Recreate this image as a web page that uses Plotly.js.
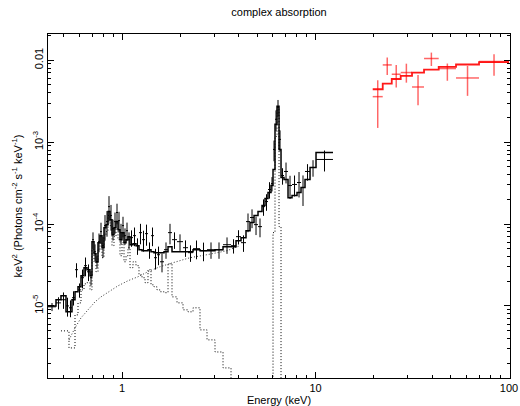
<!DOCTYPE html>
<html>
<head>
<meta charset="utf-8">
<script src="https://cdn.plot.ly/plotly-3.0.1.min.js"></script>
<style>html,body{margin:0;padding:0;background:#fff;}#plot{width:520px;height:406px;}</style>
</head>
<body>
<div id="plot"></div>
<script>
// ---- black spectrum (0.4-12 keV): bin edges (keV), flux, 1-sigma error, total model ----
const blackEdges = [0.4146, 0.456, 0.4838, 0.5136, 0.5322, 0.5515, 0.5717, 0.5924, 0.614, 0.6363,
  0.6594, 0.6834, 0.6998, 0.7167, 0.7339, 0.7516, 0.7697, 0.7882, 0.8072, 0.8267,
  0.8466, 0.867, 0.8879, 0.9092, 0.9311, 0.9535, 0.9765, 1.0, 1.0241, 1.0488,
  1.074, 1.0999, 1.1397, 1.1814, 1.224, 1.2686, 1.3149, 1.3626, 1.4122, 1.4634,
  1.5167, 1.5718, 1.6484, 1.729, 1.8131, 1.924, 2.0665, 2.1931, 2.3281, 2.5298,
  2.7499, 3.0243, 3.3266, 3.6594, 3.883, 4.121, 4.373, 4.5868, 4.8111, 5.0445,
  5.2906, 5.4828, 5.6817, 5.8884, 6.031, 6.176, 6.3241, 6.4775, 6.6334, 6.874,
  7.2095, 7.5611, 8.0238, 8.4155, 8.825, 9.3675, 10.06, 12.31];
const blackFlux = [9.75e-6, 1.09e-5, 1.19e-5, 1.00e-5, 9.48e-6, 1.26e-5, 2.77e-5, 1.57e-5, 2.21e-5, 3.10e-5,
  2.61e-5, 2.21e-5, 6.44e-5, 4.59e-5, 3.46e-5, 6.09e-5, 8.07e-5, 5.44e-5, 9.56e-5, 1.07e-4,
  1.63e-4, 1.27e-4, 8.78e-5, 1.07e-4, 1.38e-4, 1.10e-4, 7.85e-5, 9.56e-5, 7.21e-5, 8.30e-5,
  6.44e-5, 6.82e-5, 7.21e-5, 5.44e-5, 7.85e-5, 6.44e-5, 7.63e-5, 4.86e-5, 7.21e-5, 3.88e-5,
  4.22e-5, 3.46e-5, 4.86e-5, 7.85e-5, 6.44e-5, 6.09e-5, 5.14e-5, 4.47e-5, 5.00e-5, 4.72e-5,
  4.86e-5, 4.86e-5, 5.59e-5, 5.44e-5, 7.01e-5, 5.92e-5, 1.07e-4, 1.20e-4, 9.83e-5, 9.29e-5,
  1.63e-4, 1.88e-4, 2.64e-4, 3.12e-4, 8.14e-4, 1.90e-3, 2.66e-3, 1.08e-3, 3.91e-4, 4.38e-4,
  2.95e-4, 3.04e-4, 3.21e-4, 2.79e-4, 4.38e-4, 4.90e-4, 6.14e-4];
const blackErr = [1.1e-6, 1.85e-6, 2.7e-6, 2.6e-6, 2.2e-6, 2.5e-6, 5.5e-6, 3.1e-6, 5.7e-6, 8.0e-6,
  6.0e-6, 4.4e-6, 1.47e-5, 1.05e-5, 5.9e-6, 1.57e-5, 2.3e-5, 1.56e-5, 3.3e-5, 3.7e-5,
  5.6e-5, 4.4e-5, 2.5e-5, 3.1e-5, 3.9e-5, 3.1e-5, 2.2e-5, 2.7e-5, 1.64e-5, 2.1e-5,
  1.47e-5, 1.55e-5, 1.85e-5, 1.24e-5, 2.2e-5, 1.84e-5, 2.2e-5, 1.1e-5, 1.85e-5, 1.1e-5,
  1.08e-5, 8.9e-6, 1.1e-5, 2.2e-5, 1.47e-5, 1.39e-5, 1.17e-5, 1.02e-5, 1.29e-5, 1.21e-5,
  1.1e-5, 1.1e-5, 1.27e-5, 1.08e-5, 1.39e-5, 1.35e-5, 2.75e-5, 3.1e-5, 2.5e-5, 2.4e-5,
  3.7e-5, 4.3e-5, 6.0e-5, 6.2e-5, 2.3e-4, 5.4e-4, 6.1e-4, 3.1e-4, 8.9e-5, 1.25e-4,
  9.3e-5, 8.7e-5, 1.1e-4, 1.13e-4, 1.0e-4, 1.12e-4, 1.76e-4];
const blackModel = [1.00e-5, 1.19e-5, 1.33e-5, 8.5e-6, 8.5e-6, 1.19e-5, 1.49e-5, 1.71e-5, 2.34e-5, 2.93e-5,
  2.77e-5, 2.34e-5, 6.09e-5, 4.34e-5, 3.46e-5, 5.92e-5, 7.21e-5, 5.14e-5, 9.03e-5, 9.83e-5,
  1.42e-4, 1.13e-4, 7.42e-5, 9.03e-5, 1.07e-4, 8.54e-5, 6.44e-5, 7.85e-5, 5.92e-5, 6.44e-5,
  7.01e-5, 5.59e-5, 5.75e-5, 5.44e-5, 4.86e-5, 4.72e-5, 4.72e-5, 4.86e-5, 4.59e-5, 4.47e-5,
  4.47e-5, 4.47e-5, 4.59e-5, 5.29e-5, 4.59e-5, 4.59e-5, 4.59e-5, 4.59e-5, 4.86e-5, 4.72e-5,
  4.72e-5, 4.86e-5, 5.29e-5, 5.29e-5, 6.26e-5, 6.82e-5, 8.30e-5, 1.04e-4, 1.27e-4, 1.42e-4,
  1.68e-4, 2.05e-4, 2.42e-4, 2.95e-4, 4.63e-4, 1.65e-3, 2.74e-3, 8.14e-4, 3.70e-4, 3.50e-4,
  2.10e-4, 2.23e-4, 2.42e-4, 2.79e-4, 3.50e-4, 4.90e-4, 7.48e-4];
// thermal (line-rich) component, on the same bins (first bins empty)
const thermalModel = [null, null, 4.96e-6, 4.96e-6, 3.07e-6, 3.07e-6, 7.78e-6, 1.09e-5, 1.57e-5, 1.86e-5,
  1.92e-5, 1.57e-5, 4.86e-5, 3.46e-5, 2.61e-5, 4.86e-5, 5.92e-5, 3.88e-5, 7.42e-5, 8.07e-5,
  1.27e-4, 9.56e-5, 5.44e-5, 7.01e-5, 8.78e-5, 6.44e-5, 4.10e-5, 5.92e-5, 3.46e-5, 4.10e-5,
  5.14e-5, 2.93e-5, 3.46e-5, 3.10e-5, 2.40e-5, 2.21e-5, 1.92e-5, 2.77e-5, 1.81e-5, 1.71e-5,
  1.57e-5, 1.49e-5, 1.45e-5, 3.27e-5, 1.29e-5, 1.09e-5, 8.96e-6, 8.47e-6, 9.48e-6, 5.10e-6,
  3.85e-6, 2.74e-6, 1.75e-6, 1e-7];
// absorbed power-law continuum
const plEnergy = [0.5322, 0.5717, 0.614, 0.6673, 0.725, 0.7789, 0.867, 0.9535, 1.074, 1.2097, 1.395, 1.572, 1.835, 2.246, 2.75, 3.488, 4.072];
const plFlux = [3.85e-6, 5.39e-6, 7.15e-6, 8.96e-6, 1.12e-5, 1.29e-5, 1.53e-5, 1.76e-5, 2.03e-5, 2.27e-5, 2.69e-5, 3.01e-5, 3.37e-5, 3.88e-5, 4.22e-5, 4.72e-5, 5.44e-5];
// Fe K gaussian line
const gaussEdges = [5.8884, 6.031, 6.176, 6.3241, 6.4775, 6.6334, 6.874];
const gaussModel = [1e-8, 7.85e-5, 1.175e-3, 2.51e-3, 9.29e-5, 1e-8];

// ---- red spectrum (20-100 keV) ----
const redEdges = [19.75, 22.25, 24.77, 27.56, 31.53, 36.37, 43.31, 53.22, 69.98, 100];
const redFlux = [3.59e-3, 8.76e-3, 6.74e-3, 7.07e-3, 4.71e-3, 1.049e-2, 7.91e-3, 6.07e-3, 9.64e-3];
const redErrUp = [2.1e-3, 2.0e-3, 2.0e-3, 2.0e-3, 1.9e-3, 1.9e-3, 1.2e-3, 2.45e-3, 2.2e-3];
const redErrDn = [2.1e-3, 2.15e-3, 2.1e-3, 1.75e-3, 1.9e-3, 2.0e-3, 2.3e-3, 2.4e-3, 3.2e-3];
const redModel = [4.42e-3, 5.18e-3, 5.90e-3, 6.42e-3, 7.07e-3, 7.69e-3, 8.28e-3, 8.86e-3, 9.45e-3];

// ---- axis ticks ----
const xTickVals = [1, 10, 100];
const xTickText = ['1', '10', '100'];
const xMinorVals = [0.5, 0.6, 0.7, 0.8, 0.9, 2, 3, 4, 5, 6, 7, 8, 9, 20, 30, 40, 50, 60, 70, 80, 90];
const yTickVals = [1e-5, 1e-4, 1e-3, 1e-2];
const yTickText = ['10<sup>-5</sup>', '10<sup>-4</sup>', '10<sup>-3</sup>', '0.01'];
const yMinorVals = [2e-6, 3e-6, 4e-6, 5e-6, 6e-6, 7e-6, 8e-6, 9e-6, 2e-5, 3e-5, 4e-5, 5e-5, 6e-5, 7e-5, 8e-5, 9e-5,
  2e-4, 3e-4, 4e-4, 5e-4, 6e-4, 7e-4, 8e-4, 9e-4, 2e-3, 3e-3, 4e-3, 5e-3, 6e-3, 7e-3, 8e-3, 9e-3, 2e-2];

function stepXY(edges, vals) {
  const xs = [], ys = [];
  for (let i = 0; i < vals.length; i++) {
    if (vals[i] == null) { xs.push(null); ys.push(null); continue; }
    xs.push(edges[i], edges[i + 1]); ys.push(vals[i], vals[i]);
  }
  return {x: xs, y: ys};
}
function centers(edges) { const c = []; for (let i = 0; i < edges.length - 1; i++) c.push(Math.sqrt(edges[i] * edges[i + 1])); return c; }

const bc = centers(blackEdges);
const rc = centers(redEdges);
const dotted = '1px,2px';

const traces = [];
const th = stepXY(blackEdges, thermalModel);
traces.push({x: th.x, y: th.y, mode: 'lines', line: {color: '#000', width: 1, dash: dotted}, hoverinfo: 'skip'});
traces.push({x: plEnergy, y: plFlux, mode: 'lines', line: {color: '#333', width: 1, dash: dotted}, hoverinfo: 'skip'});
const ga = stepXY(gaussEdges, gaussModel);
traces.push({x: ga.x, y: ga.y, mode: 'lines', line: {color: '#000', width: 1, dash: dotted}, hoverinfo: 'skip'});

traces.push({
  x: bc, y: blackFlux, mode: 'markers', marker: {size: 1, color: 'rgba(0,0,0,0)'},
  error_x: {type: 'data', symmetric: false, array: bc.map((c, i) => blackEdges[i + 1] - c), arrayminus: bc.map((c, i) => c - blackEdges[i]), width: 0, thickness: 1, color: '#000'},
  error_y: {type: 'data', array: blackErr, width: 0, thickness: 1, color: '#000'}
});
const bm = stepXY(blackEdges, blackModel);
traces.push({x: bm.x, y: bm.y, mode: 'lines', line: {color: '#000', width: 1.5}});

traces.push({
  x: rc, y: redFlux, mode: 'markers', marker: {size: 1, color: 'rgba(0,0,0,0)'},
  error_x: {type: 'data', symmetric: false, array: rc.map((c, i) => redEdges[i + 1] - c), arrayminus: rc.map((c, i) => c - redEdges[i]), width: 0, thickness: 1.5, color: 'rgba(255,0,0,0.6)'},
  error_y: {type: 'data', symmetric: false, array: redErrUp, arrayminus: redErrDn, width: 0, thickness: 1.5, color: 'rgba(255,0,0,0.6)'}
});
const rm = stepXY(redEdges, redModel);
traces.push({x: rm.x, y: rm.y, mode: 'lines', line: {color: 'rgba(255,0,0,0.9)', width: 1.8}});

const axisCommon = {
  type: 'log', tickmode: 'array', ticks: 'inside', ticklen: 6, tickwidth: 1, tickcolor: '#000',
  showline: true, linecolor: '#000', linewidth: 1, mirror: 'allticks', showgrid: false, zeroline: false,
  automargin: false, tickfont: {size: 11, color: '#000'}
};

const layout = {
  width: 520, height: 406,
  margin: {l: 48, r: 10, t: 34, b: 28, pad: 0},
  paper_bgcolor: '#fff', plot_bgcolor: '#fff', showlegend: false,
  font: {family: '"Liberation Sans", Arial, sans-serif', size: 11, color: '#000'},
  title: {text: 'complex absorption', x: 0.5, xref: 'paper', xanchor: 'center', y: 1 - 12 / 406, yref: 'container', yanchor: 'middle', font: {size: 11, color: '#000'}},
  xaxis: Object.assign({}, axisCommon, {
    range: [-0.3824, 2.005], tickvals: xTickVals, ticktext: xTickText,
    minor: {tickmode: 'array', tickvals: xMinorVals, ticks: 'inside', ticklen: 3, tickwidth: 1, tickcolor: '#000', showgrid: false},
    title: {text: 'Energy (keV)', standoff: 3, font: {size: 11}}
  }),
  yaxis: Object.assign({}, axisCommon, {
    range: [-5.88, -1.68], tickvals: yTickVals, ticktext: yTickText, tickangle: -90,
    minor: {tickmode: 'array', tickvals: yMinorVals, ticks: 'inside', ticklen: 3, tickwidth: 1, tickcolor: '#000', showgrid: false},
    title: {text: 'keV<sup>2</sup> (Photons cm<sup>-2</sup> s<sup>-1</sup> keV<sup>-1</sup>)', standoff: 6, font: {size: 11}}
  })
};

Plotly.newPlot('plot', traces, layout, {displayModeBar: false, staticPlot: true});
</script>
</body>
</html>
